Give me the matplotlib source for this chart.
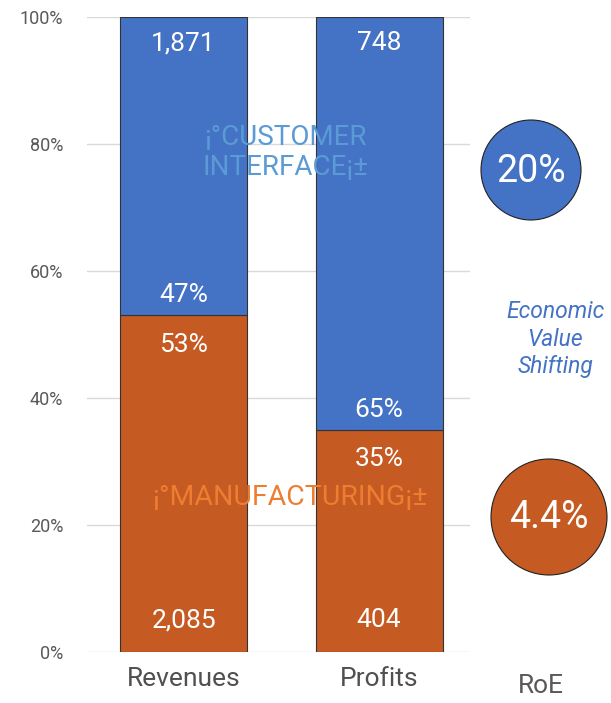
import matplotlib
matplotlib.use('Agg')
import matplotlib.pyplot as plt
from matplotlib.patches import Circle

plt.rcParams['font.family'] = ['Roboto', 'DejaVu Sans']

# ── data ───────────────────────────────────────────────────────────────────
categories    = ["Revenues", "Profits"]
manuf_amount  = [2085, 404]
cust_amount   = [1871, 748]
manuf_share   = [53, 35]
cust_share    = [47, 65]
roe_labels    = ["20%", "4.4%"]
yticks        = [0, 20, 40, 60, 80, 100]

BLUE   = "#4472C4"
ORANGE = "#C55A22"
LBLUE  = "#5B9BD5"
LORNG  = "#ED7D31"
GREY   = "#595959"

fig = plt.figure(figsize=(6.11, 7.03), dpi=100)
ax = fig.add_axes([87/611, 1-652/703, (470-87)/611, (652-17)/703])

x = list(range(len(categories)))
ax.bar(x, manuf_share, width=0.65, color=ORANGE, edgecolor="#333333", linewidth=0.8, zorder=2)
ax.bar(x, cust_share, width=0.65, bottom=manuf_share, color=BLUE, edgecolor="#333333",
       linewidth=0.8, zorder=2)

ax.set_xlim(-0.494, 1.465)
ax.set_ylim(0, 100)
ax.set_yticks(yticks)
ax.set_yticklabels([f"{t}%" for t in yticks], color=GREY, fontsize=13)
ax.set_xticks(x)
ax.set_xticklabels(categories, color="#505050", fontsize=19)
ax.tick_params(length=0, axis='both')
ax.tick_params(axis='y', pad=17)
ax.tick_params(axis='x', pad=11)
ax.yaxis.grid(True, color="#D9D9D9", linewidth=1, zorder=0)
for s in ax.spines.values():
    s.set_visible(False)

# ── labels inside bars ─────────────────────────────────────────────────────
lbl = dict(color="white", fontsize=19, ha="center", va="center",
           textcoords="offset points")
for i in x:
    b = manuf_share[i]
    ax.annotate(f"{cust_amount[i]:,}", (i, 100), xytext=(0, -19), **lbl)
    ax.annotate(f"{cust_share[i]}%", (i, b), xytext=(0, 14.5), **lbl)
    ax.annotate(f"{manuf_share[i]}%", (i, b), xytext=(0, -21), **lbl)
    ax.annotate(f"{manuf_amount[i]:,}", (i, 0), xytext=(0, 23), **lbl)

ax.text(0.52, 78.7, "¡°CUSTOMER\nINTERFACE¡±", color=LBLUE, fontsize=20, ha="center",
        va="center", linespacing=1.15, zorder=3)
ax.text(0.545, 24.4, "¡°MANUFACTURING¡±", color=LORNG, fontsize=20.5, ha="center",
        va="center", zorder=3)

# ── RoE circles and side text (pixel overlay) ─────────────────────────────
ov = fig.add_axes([0, 0, 1, 1])
ov.set_xlim(0, 611)
ov.set_ylim(703, 0)
ov.axis('off')
ov.patch.set_alpha(0)

ov.add_patch(Circle((531, 170), 50, facecolor=BLUE, edgecolor="#222222", linewidth=0.8))
ov.add_patch(Circle((549, 517), 58, facecolor=ORANGE, edgecolor="#222222", linewidth=0.8))
ov.text(531, 172, roe_labels[0], color="white", fontsize=27, ha="center", va="center")
ov.text(549, 517, roe_labels[1], color="white", fontsize=27, ha="center", va="center")

ov.text(555, 339, "Economic\nValue\nShifting", color=BLUE, fontsize=16.5, style="italic",
        ha="center", va="center", linespacing=1.25)
ov.text(541, 686, "RoE", color=GREY, fontsize=19, ha="center", va="center")

fig.savefig("out.png", dpi=100)
